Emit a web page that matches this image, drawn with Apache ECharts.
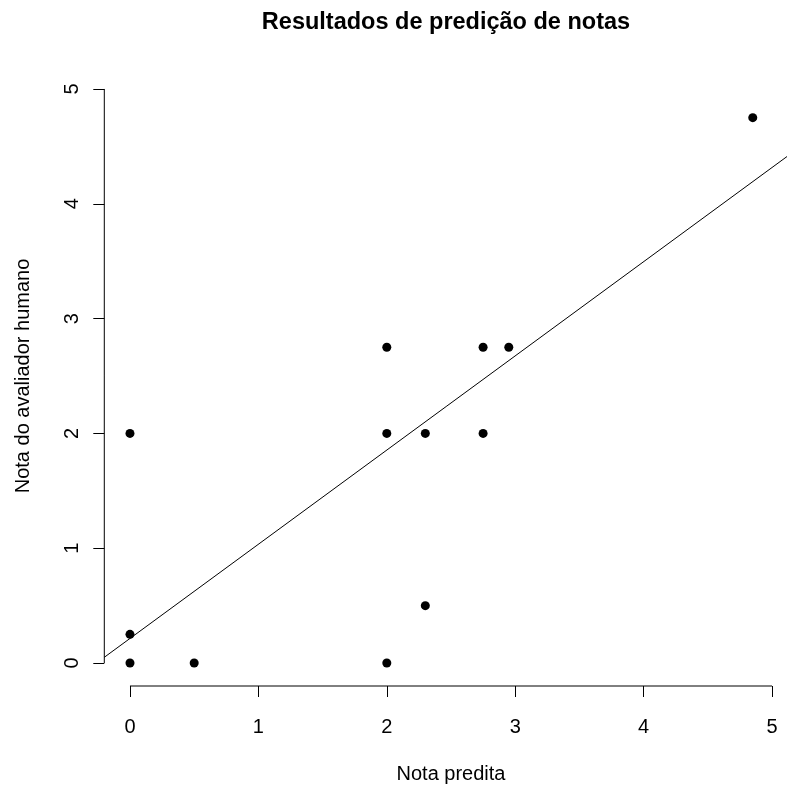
<!DOCTYPE html>
<html><head><meta charset="utf-8">
<script src="https://cdn.jsdelivr.net/npm/echarts@6/dist/echarts.min.js"></script>
<style>html,body{margin:0;padding:0;background:#fff}#c{width:787px;height:785px}</style>
</head><body><div id="c"></div>
<script>
const titleText = 'Resultados de predição de notas';
const xName = 'Nota predita';
const yName = 'Nota do avaliador humano';
const predicted = [0, 0, 0, 0.5, 2, 2, 2, 2.3, 2.3, 2.75, 2.75, 2.95, 4.85];
const human     = [0, 0.25, 2, 0, 0, 2, 2.75, 0.5, 2, 2.75, 2, 2.75, 4.75];
const fitX = [-0.2, 5.2];
const fitY = [0.05, 4.48];
const xTicks = [0, 1, 2, 3, 4, 5];
const yTicks = [0, 1, 2, 3, 4, 5];
const xLim = [-0.2, 5.2];
const yLim = [-0.2, 5.2];

const FONT = "'Liberation Sans', Arial, Helvetica, sans-serif";
const points = predicted.map((x, i) => [x, human[i]]);
const fitLine = fitX.map((x, i) => [x, fitY[i]]);
const xAxisLine = [[xTicks[0], yLim[0]], [xTicks[xTicks.length - 1], yLim[0]]];
const yAxisLine = [[xLim[0], yTicks[0]], [xLim[0], yTicks[yTicks.length - 1]]];

const chart = echarts.init(document.getElementById('c'), null, {renderer: 'canvas'});
chart.setOption({
  animation: false,
  backgroundColor: '#fff',
  title: {
    text: titleText,
    left: 441, top: 6,
    textAlign: 'center',
    textStyle: {fontFamily: FONT, fontWeight: 'bold', fontSize: 23.5, color: '#000'}
  },
  grid: {left: 104.3, top: 66, width: 693.4, height: 620, containLabel: false, outerBoundsMode: 'none'},
  xAxis: {
    type: 'value', min: xLim[0], max: xLim[1],
    name: xName, nameLocation: 'middle', nameGap: 78,
    nameTextStyle: {fontFamily: FONT, fontSize: 20, color: '#000', verticalAlign: 'top'},
    axisLine: {show: false, onZero: false},
    axisTick: {show: true, length: 11, customValues: xTicks, lineStyle: {color: '#000', width: 1}},
    axisLabel: {customValues: xTicks, fontFamily: FONT, fontSize: 20, color: '#000', margin: 31},
    splitLine: {show: false}
  },
  yAxis: {
    type: 'value', min: yLim[0], max: yLim[1],
    name: yName, nameLocation: 'middle', nameGap: 71, nameRotate: 90,
    nameTextStyle: {fontFamily: FONT, fontSize: 20, color: '#000'},
    axisLine: {show: false, onZero: false},
    axisTick: {show: true, length: 11, customValues: yTicks, lineStyle: {color: '#000', width: 1}},
    axisLabel: {customValues: yTicks, rotate: 90, fontFamily: FONT, fontSize: 20, color: '#000', margin: 22},
    splitLine: {show: false}
  },
  series: [
    {type: 'line', data: xAxisLine, symbol: 'none', clip: false, silent: true,
     lineStyle: {color: '#000', width: 1}},
    {type: 'line', data: yAxisLine, symbol: 'none', clip: false, silent: true,
     lineStyle: {color: '#000', width: 1}},
    {type: 'line', data: fitLine, symbol: 'none', silent: true,
     lineStyle: {color: '#000', width: 1}},
    {type: 'scatter', data: points, symbol: 'circle', symbolSize: 9,
     itemStyle: {color: '#000', opacity: 1}}
  ]
});
</script></body></html>
